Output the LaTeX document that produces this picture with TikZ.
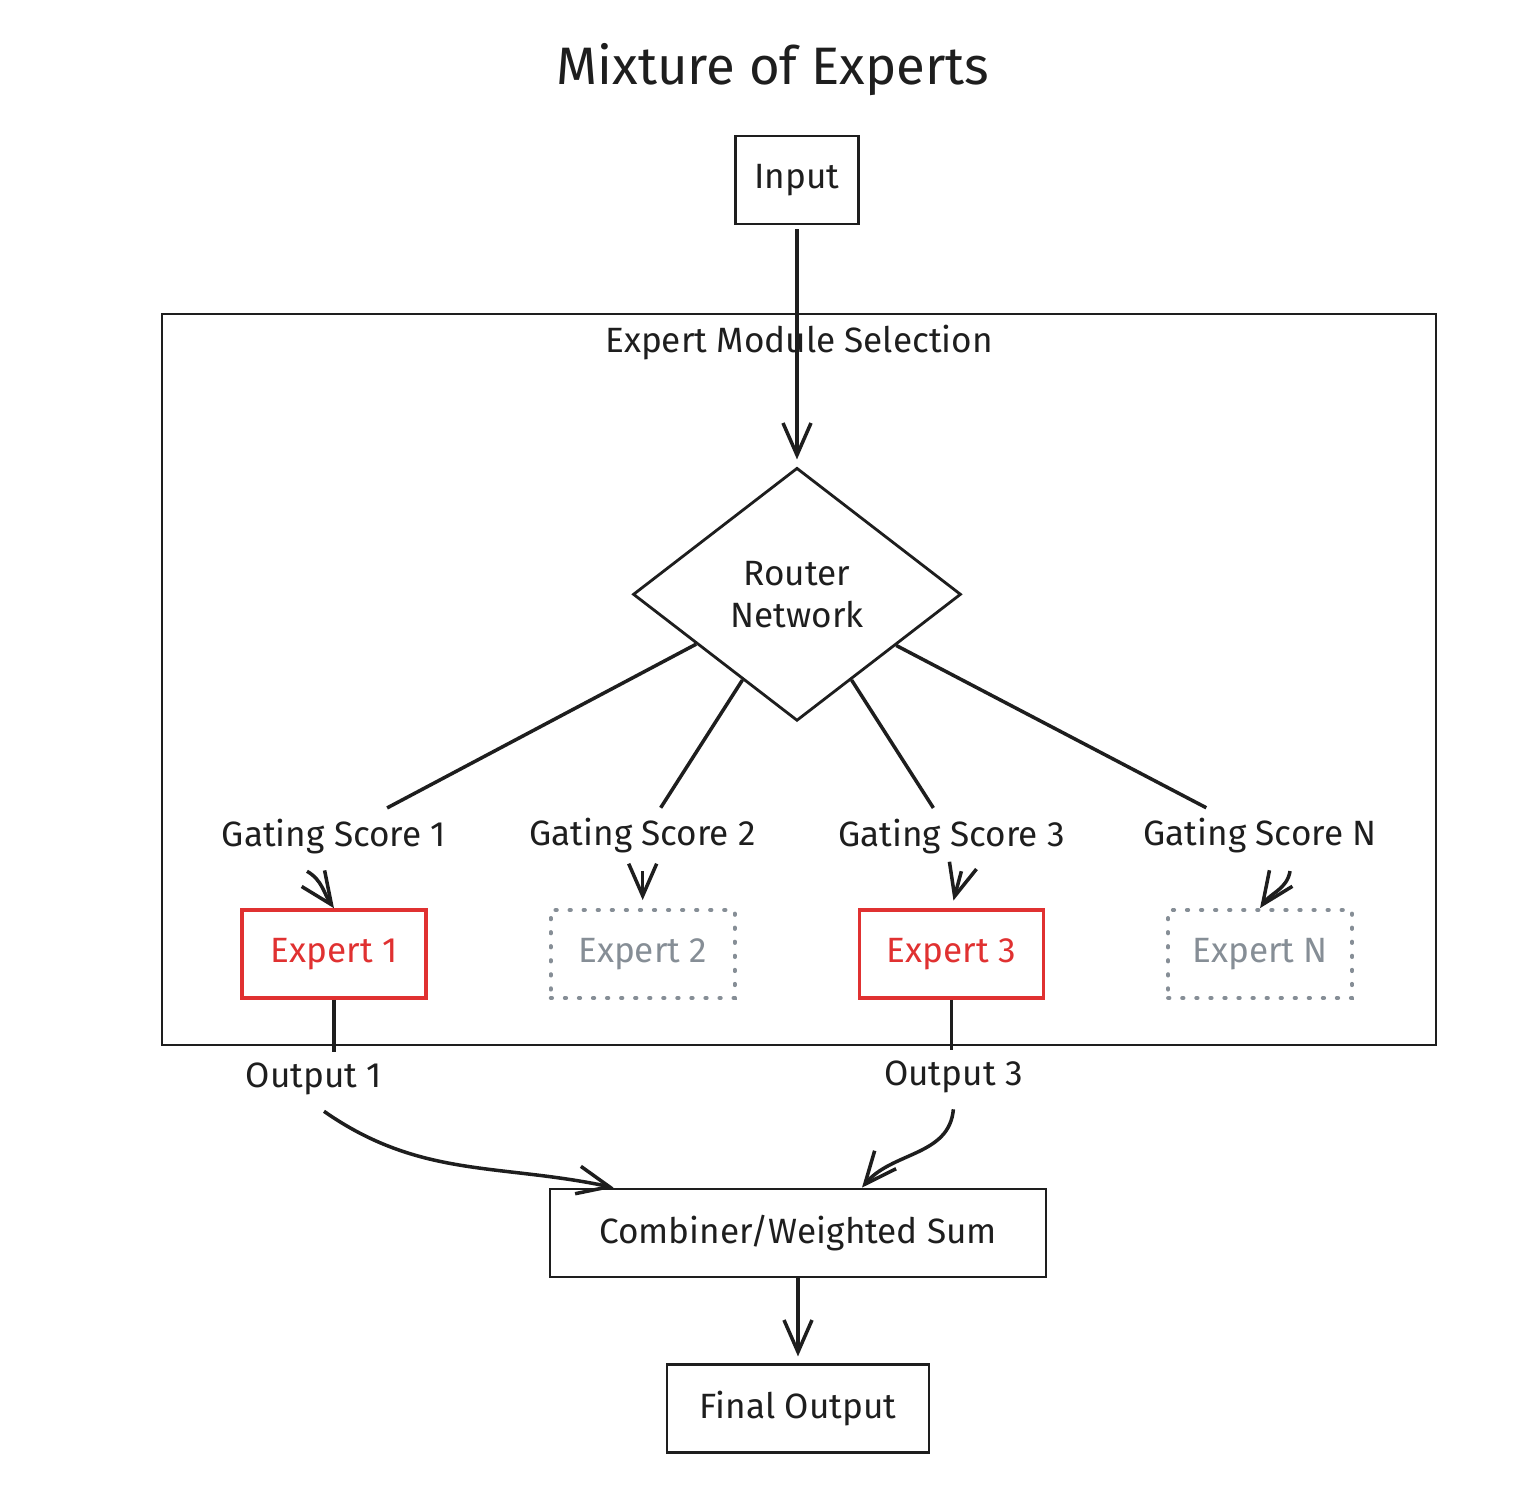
\documentclass[tikz,border=0pt]{standalone}
\usepackage{fontspec}
\setmainfont{Fira Sans}
\usepackage{tikz}
\usetikzlibrary{positioning, arrows.meta, shapes.geometric, calc}
\definecolor{mxdark}{HTML}{1E1E1E}
\definecolor{mxred}{HTML}{E03131}
\definecolor{mxgray}{HTML}{868E96}

\begin{document}
\begin{tikzpicture}[
  font=\fontsize{10}{12}\selectfont,
  node distance=0.6cm,
  block/.style={
    rectangle, draw=mxdark, line width=0.8pt,
    minimum width=1.23cm, minimum height=0.88cm,
    text=mxdark, align=center
  },
  router/.style={
    diamond, draw=mxdark, line width=0.8pt,
    minimum width=3.28cm, minimum height=2.53cm,
    inner sep=0pt, text=mxdark, align=center
  },
  expert/.style={
    rectangle, draw=mxred, line width=1pt, text=mxred,
    minimum width=1.84cm, minimum height=0.88cm
  },
  idle/.style={
    rectangle, draw=mxgray, line width=1.1pt, text=mxgray,
    dash pattern=on 0.4pt off 3.6pt, line cap=round,
    minimum width=1.84cm, minimum height=0.88cm
  },
  tagtext/.style={text=mxdark, inner sep=0.1cm},
  moduleframe/.style={
    rectangle, draw=mxdark, line width=0.8pt,
    minimum width=12.74cm, minimum height=7.31cm
  },
  arr/.style={-{Straight Barb[length=3.2mm, width=2.8mm]}, line width=1pt, color=mxdark},
  link/.style={line width=1pt, color=mxdark},
]
\useasboundingbox (0,0) rectangle (15.2,-15.0);

% Module frame
\node[moduleframe] (module) at (7.99,-6.795) {};
\node[tagtext, inner sep=0pt, below=0.12cm of module.north] (modlabel) {Expert Module Selection};

% Input and router
\node[block] (input) at (7.97,-1.80) {Input};
\node[text=mxdark, inner sep=0pt, font=\fontsize{15}{18}\selectfont,
  above=0.38cm of input, xshift=-0.24cm] (title) {Mixture of Experts};
\node[router, below=2.41cm of input] (router) {Router\\Network};

% Experts
\node[expert] (e1) at (3.34,-9.54) {Expert 1};
\node[idle, right=1.21cm of e1] (e2) {Expert 2};
\node[expert, right=1.21cm of e2] (e3) {Expert 3};
\node[idle, right=1.21cm of e3] (eN) {Expert N};

% Gating scores
\node[tagtext, above=0.44cm of e1] (gs1) {Gating Score 1};
\node[tagtext, above=0.44cm of e2] (gs2) {Gating Score 2};
\node[tagtext, above=0.44cm of e3] (gs3) {Gating Score 3};
\node[tagtext, above=0.44cm of eN] (gsN) {Gating Score N};

% Outputs
\node[tagtext, below=0.52cm of e1, xshift=-0.2cm] (o1) {Output 1};
\node[tagtext, below=0.50cm of e3, xshift=0.02cm] (o3) {Output 3};

% Combiner and result
\node[block, minimum width=4.96cm] (comb) at (7.98,-12.33) {Combiner/Weighted Sum};
\node[block, minimum width=2.62cm, below=0.85cm of comb] (final) {Final Output};

% Input to router
\draw[arr, shorten <=0.04cm, shorten >=0.07cm] (input) -- (router);

% Router to gating scores
\draw[link] ($(router.west)!0.39!(router.south)$) -- (gs1);
\draw[link] ($(router.west)!0.67!(router.south)$) -- (gs2);
\draw[link] ($(router.south)!0.33!(router.east)$) -- (gs3);
\draw[link] ($(router.south)!0.60!(router.east)$) -- (gsN);

% Gating scores to experts
\draw[arr] ($(gs1.south)+(-0.27,-0.07)$) to[out=-30, in=125] (e1.north);
\draw[arr, shorten <=0.07cm, shorten >=0.08cm] (gs2.south) -- (e2.north);
\draw[arr, shorten >=0.08cm] ($(gs3.south)+(0.1,-0.07)$) -- (e3.north);
\draw[arr] ($(gsN.south)+(0.3,-0.07)$) to[out=-100, in=55] (eN.north);

% Experts to outputs
\draw[link] (e1.south) -- (e1.south |- o1.north);
\draw[link] (e3.south) -- (e3.south |- o3.north);

% Outputs to combiner
\draw[arr] ($(o1.south)+(0.1,-0.06)$) to[out=-35, in=168] ($(comb.north west)+(0.65,0)$);
\draw[arr] ($(o3.south)+(0,-0.06)$) to[out=-95, in=50] ($(comb.north)+(0.64,0)$);

% Combiner to final output
\draw[arr, shorten >=0.07cm] (comb) -- (final);

\end{tikzpicture}
\end{document}
